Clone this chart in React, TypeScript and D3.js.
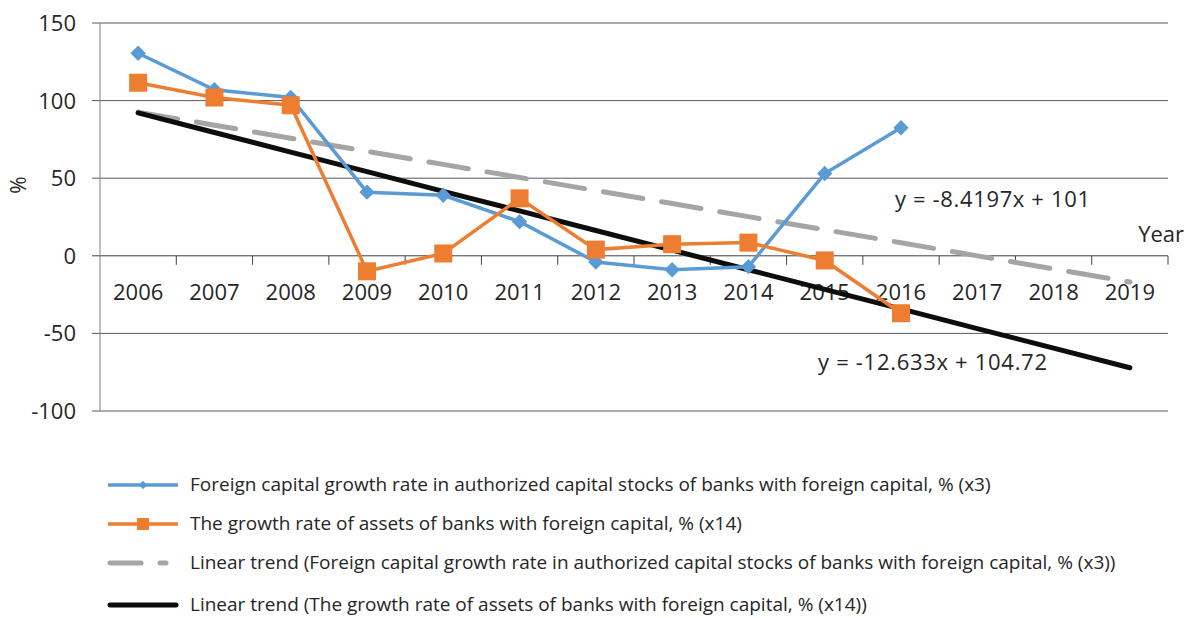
import React from "react";
import * as d3 from "d3";

const years = ["2006","2007","2008","2009","2010","2011","2012","2013","2014","2015","2016","2017","2018","2019"];
const capitalGrowth = [130.5, 107, 102, 41, 39, 22, -4, -9, -7, 53, 82.5];
const assetGrowth = [111.5, 102, 97, -10, 1.5, 37, 4, 7.5, 8.5, -3, -37];
const trendCapital = { slope: -8.4197, intercept: 101, label: "y = -8.4197x + 101" };
const trendAssets = { slope: -12.633, intercept: 104.72, label: "y = -12.633x + 104.72" };
const yTicks = [150, 100, 50, 0, -50, -100];
const legendLabels = [
  "Foreign capital growth rate in authorized capital stocks of banks with foreign capital, % (x3)",
  "The growth rate of assets of banks with foreign capital, % (x14)",
  "Linear trend (Foreign capital growth rate in authorized capital stocks of banks with foreign capital, % (x3))",
  "Linear trend (The growth rate of assets of banks with foreign capital, % (x14))",
];

const BLUE = "#5B9BD5";
const ORANGE = "#ED7D31";
const GRAY = "#A5A5A5";
const FONT = "'Open Sans', Lato, sans-serif";
const TXT = "#262626";

export default function App() {
  const W = 1192, H = 618;
  const left = 100, right = 1168, top = 23, bottom = 411;
  const x = d3.scaleBand<string>().domain(years).range([left, right]).paddingInner(0).paddingOuter(0);
  const cx = (i: number) => (x(years[i]) as number) + x.bandwidth() / 2;
  const y = d3.scaleLinear().domain([-100, 150]).range([bottom, top]);

  const line = d3.line<number>().x((_, i) => cx(i)).y((d) => y(d));
  const trendPts = (t: { slope: number; intercept: number }) =>
    years.map((_, i) => t.slope * (i + 1) + t.intercept);

  const diamond = d3.symbol().type(d3.symbolDiamond2).size(150)();

  return (
    <svg width={W} height={H} style={{ position: "absolute", left: 0, top: 0, background: "#fff" }}>
      {yTicks.map((t) => (
        <line key={t} x1={left - 8} x2={right} y1={y(t)} y2={y(t)} stroke={t === 0 ? "#404040" : "#595959"} strokeWidth={1} />
      ))}
      <line x1={left} x2={left} y1={top} y2={bottom} stroke="#7f7f7f" strokeWidth={1} />
      {years.map((yr) => (
        <line key={yr} x1={(x(yr) as number) + x.bandwidth()} x2={(x(yr) as number) + x.bandwidth()} y1={y(0)} y2={y(0) + 9} stroke="#404040" strokeWidth={1} />
      ))}
      {yTicks.map((t) => (
        <text key={t} x={76} y={y(t) + 8} textAnchor="end" fontFamily={FONT} fontSize={22} fill={TXT}>{t}</text>
      ))}
      <text transform="translate(26,185) rotate(-90)" textAnchor="middle" fontFamily={FONT} fontSize={21} fill={TXT}>%</text>
      {years.map((yr, i) => (
        <text key={yr} x={cx(i)} y={300} textAnchor="middle" fontFamily={FONT} fontSize={22} fill={TXT}>{yr}</text>
      ))}
      <text x={1184} y={242} textAnchor="end" fontFamily={FONT} fontSize={22} fill={TXT}>Year</text>

      <path d={line(trendPts(trendCapital)) || ""} fill="none" stroke={GRAY} strokeWidth={5} strokeDasharray="40 19" strokeLinecap="round" />
      <path d={line(trendPts(trendAssets)) || ""} fill="none" stroke="#0d0d0d" strokeWidth={5} strokeLinecap="round" />

      <path d={line(capitalGrowth) || ""} fill="none" stroke={BLUE} strokeWidth={3.5} />
      {capitalGrowth.map((v, i) => (
        <path key={i} d={diamond || ""} transform={`translate(${cx(i)},${y(v)})`} fill={BLUE} />
      ))}
      <path d={line(assetGrowth) || ""} fill="none" stroke={ORANGE} strokeWidth={3.5} />
      {assetGrowth.map((v, i) => (
        <rect key={i} x={cx(i) - 9} y={y(v) - 9} width={18} height={18} fill={ORANGE} />
      ))}

      <text x={895} y={207} fontFamily={FONT} fontSize={22} textLength={195} lengthAdjust="spacing" fill={TXT}>{trendCapital.label}</text>
      <text x={818} y={370} fontFamily={FONT} fontSize={22} textLength={229} lengthAdjust="spacing" fill={TXT}>{trendAssets.label}</text>

      {legendLabels.map((lab, i) => {
        const ly = [485, 524, 563, 605][i];
        return (
          <g key={i}>
            {i === 0 && (
              <g>
                <line x1={108} x2={178} y1={ly} y2={ly} stroke={BLUE} strokeWidth={3.5} />
                <path d={d3.symbol().type(d3.symbolDiamond2).size(45)() || ""} transform={`translate(143,${ly})`} fill={BLUE} />
              </g>
            )}
            {i === 1 && (
              <g>
                <line x1={108} x2={178} y1={ly} y2={ly} stroke={ORANGE} strokeWidth={3.5} />
                <rect x={137} y={ly - 6} width={12} height={12} fill={ORANGE} />
              </g>
            )}
            {i === 2 && (
              <g>
                <line x1={110} x2={141} y1={ly} y2={ly} stroke={GRAY} strokeWidth={5} strokeLinecap="round" />
                <line x1={160} x2={166} y1={ly} y2={ly} stroke={GRAY} strokeWidth={5} strokeLinecap="round" />
              </g>
            )}
            {i === 3 && <line x1={110} x2={176} y1={ly} y2={ly} stroke="#0d0d0d" strokeWidth={5} strokeLinecap="round" />}
            <text x={190} y={ly + 6} fontFamily={FONT} fontSize={19} fill={TXT}>{lab}</text>
          </g>
        );
      })}
    </svg>
  );
}
